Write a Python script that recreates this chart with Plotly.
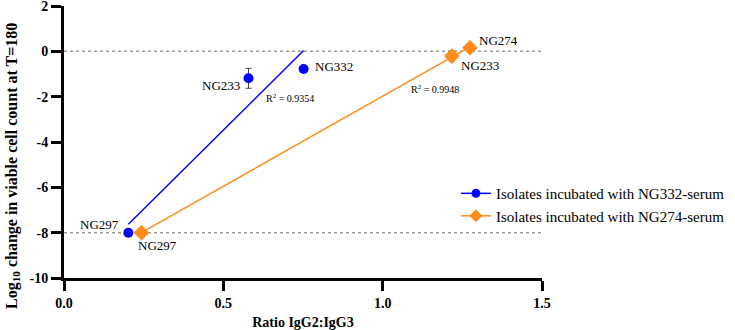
import numpy as np
import plotly.graph_objects as go

# ---- data ----
blue_labels = ["NG297", "NG233", "NG332"]
blue_x = [0.202, 0.579, 0.752]
blue_y = [-8.0, -1.19, -0.78]
blue_err = [0.0, 0.44, 0.0]

orange_labels = ["NG297", "NG233", "NG274"]
orange_x = [0.243, 1.217, 1.274]
orange_y = [-8.0, -0.21, 0.16]
orange_err = [0.0, 0.22, 0.0]

blue_r2 = "R<sup>2</sup> = 0.9354"
orange_r2 = "R<sup>2</sup> = 0.9948"
ref_levels = [0, -8]

x_ticks = [0.0, 0.5, 1.0, 1.5]
x_ticklabels = ["0.0", "0.5", "1.0", "1.5"]
y_ticks = [2, 0, -2, -4, -6, -8, -10]
y_ticklabels = ["2", "0", "-2", "-4", "-6", "-8", "-10"]

x_title = "<b>Ratio IgG2:IgG3</b>"
y_title = "<b>Log<sub>10</sub> change in viable cell count at T=180</b>"

BLUE = "#0000FF"
ORANGE = "#FF8C1A"
FONT = "Liberation Serif, Times New Roman, serif"

fig = go.Figure()

def fit_line(xs, ys):
    m, b = np.polyfit(xs, ys, 1)
    xx = np.array([min(xs), max(xs)])
    return xx, m * xx + b

for xs, ys, col in [(blue_x, blue_y, BLUE), (orange_x, orange_y, ORANGE)]:
    fx, fy = fit_line(xs, ys)
    fig.add_trace(go.Scatter(x=fx, y=fy, mode="lines", line=dict(color=col, width=1.5),
                             showlegend=False, hoverinfo="skip"))

fig.add_trace(go.Scatter(x=blue_x, y=blue_y, mode="markers",
                         marker=dict(symbol="circle", size=10, color=BLUE),
                         error_y=dict(type="data", array=blue_err, color="#444", thickness=1, width=3),
                         showlegend=False))
fig.add_trace(go.Scatter(x=orange_x, y=orange_y, mode="markers",
                         marker=dict(symbol="diamond", size=12, color=ORANGE),
                         error_y=dict(type="data", array=orange_err, color="#444", thickness=1, width=3),
                         showlegend=False))

# legend entries
fig.add_trace(go.Scatter(x=[None], y=[None], mode="lines+markers",
                         line=dict(color=BLUE, width=1.5),
                         marker=dict(symbol="circle", size=9, color=BLUE),
                         name="Isolates incubated with NG332-serum"))
fig.add_trace(go.Scatter(x=[None], y=[None], mode="lines+markers",
                         line=dict(color=ORANGE, width=1.5),
                         marker=dict(symbol="diamond", size=10, color=ORANGE),
                         name="Isolates incubated with NG274-serum"))

for lv in ref_levels:
    fig.add_shape(type="line", x0=0, x1=1.5, y0=lv, y1=lv, xref="x", yref="y",
                  line=dict(color="#999999", width=1.5, dash="dot"), layer="below")

# point labels (offsets per label)
offsets_blue = [("right", -7, 8), ("right", -7, -7), ("left", 9, 3)]
offsets_orange = [("left", -5, -13), ("left", 7, -9), ("left", 7, 7)]
annots = []
for labs, xs, ys, offs in [(blue_labels, blue_x, blue_y, offsets_blue),
                           (orange_labels, orange_x, orange_y, offsets_orange)]:
    for lab, x, y, (anc, dx, dy) in zip(labs, xs, ys, offs):
        annots.append(dict(x=x, y=y, text=lab, showarrow=False, xanchor=anc, yanchor="middle",
                           xshift=dx, yshift=dy, font=dict(family=FONT, size=13, color="black")))
annots.append(dict(x=0.627, y=-2.06, text=blue_r2, showarrow=False, xanchor="left", yanchor="middle",
                   font=dict(family=FONT, size=10, color="black")))
annots.append(dict(x=1.082, y=-1.68, text=orange_r2, showarrow=False, xanchor="left", yanchor="middle",
                   font=dict(family=FONT, size=10, color="black")))
# y-axis title (placed as annotation to match the reference's vertical offset)
annots.append(dict(x=0, y=0.412, xref="paper", yref="paper", xanchor="center", yanchor="middle",
                   xshift=-51, textangle=-90, showarrow=False, text=y_title,
                   font=dict(family=FONT, size=16, color="black")))

fig.update_layout(
    width=735, height=330,
    margin=dict(l=64, r=193, t=6, b=52, autoexpand=False),
    paper_bgcolor="white", plot_bgcolor="white",
    font=dict(family=FONT, color="black"),
    annotations=annots,
    legend=dict(x=0.82, y=0.371, xanchor="left", yanchor="top",
                font=dict(family=FONT, size=15, color="black"),
                bgcolor="rgba(0,0,0,0)"),
    xaxis=dict(range=[0, 1.5], tickvals=x_ticks, ticktext=x_ticklabels,
               showline=True, linewidth=3, linecolor="black", ticks="outside",
               ticklen=10, tickwidth=3, tickcolor="black", showgrid=False, zeroline=False,
               ticklabeloverflow="allow",
               tickfont=dict(family=FONT, size=14, color="black", weight="bold"),
               title=dict(text=x_title, font=dict(family=FONT, size=14), standoff=10)),
    yaxis=dict(range=[-10, 2], tickvals=y_ticks, ticktext=y_ticklabels,
               showline=True, linewidth=3, linecolor="black", ticks="outside",
               ticklen=10, tickwidth=3, tickcolor="black", showgrid=False, zeroline=False,
               ticklabeloverflow="allow",
               tickfont=dict(family=FONT, size=14, color="black", weight="bold")),
)

fig.write_html("out.html")
